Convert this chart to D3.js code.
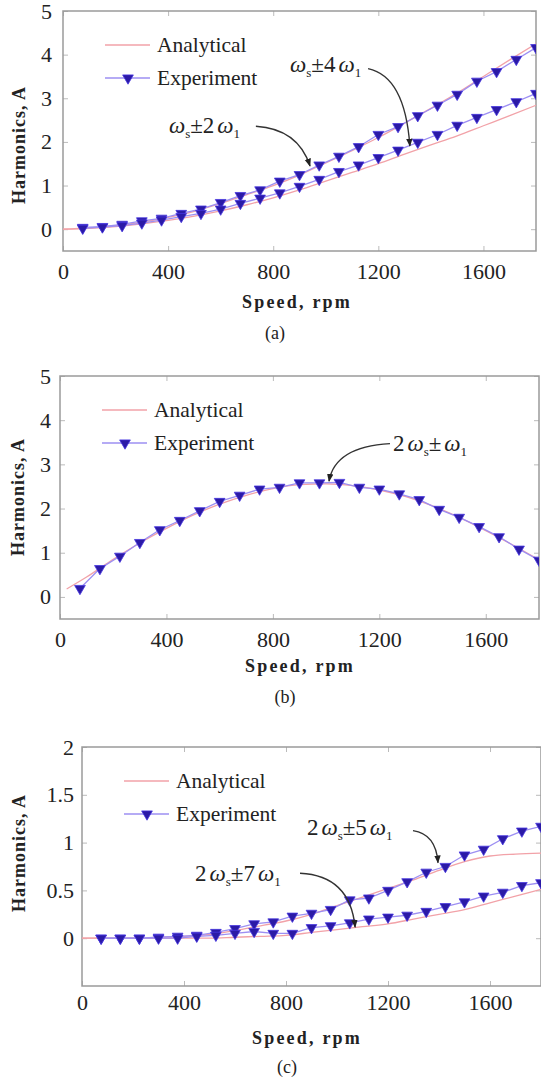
<!DOCTYPE html>
<html>
<head>
<meta charset="utf-8">
<script src="https://cdn.jsdelivr.net/npm/d3@7"></script>
<style>
  body { margin: 0; background: #fff; }
  svg { display: block; }
  svg text { font-family: "Liberation Serif", "DejaVu Serif", serif; }
</style>
</head>
<body>
<div id="chart"></div>
<script>
// speeds (rpm)
const expSpeed = [75, 150, 225, 300, 375, 450, 525, 600, 675, 750, 825, 900,
  975, 1050, 1125, 1200, 1275, 1350, 1425, 1500, 1575, 1650, 1725, 1800];
const anaSpeed = [0, 100, 200, 300, 400, 500, 600, 700, 800, 900, 1000,
  1100, 1200, 1300, 1400, 1500, 1600, 1700, 1800];
const anaSpeedB = [25, 100, 200, 300, 400, 500, 600, 700, 800, 900, 1000,
  1100, 1200, 1300, 1400, 1500, 1600, 1700, 1800];

// (a) ws±2w1 (upper) and ws±4w1 (lower)
const expAUpper = [0.04, 0.06, 0.11, 0.19, 0.25, 0.36, 0.46, 0.61, 0.77, 0.90, 1.10, 1.25,
  1.47, 1.67, 1.89, 2.17, 2.35, 2.60, 2.84, 3.09, 3.39, 3.61, 3.89, 4.16];
const expALower = [0.02, 0.05, 0.08, 0.14, 0.21, 0.29, 0.36, 0.46, 0.59, 0.71, 0.83, 0.98,
  1.14, 1.32, 1.47, 1.64, 1.81, 1.99, 2.17, 2.38, 2.56, 2.74, 2.92, 3.11];
const anaAUpper = [0, 0.03, 0.08, 0.16, 0.27, 0.41, 0.59, 0.79, 1.0, 1.24, 1.52,
  1.80, 2.10, 2.43, 2.77, 3.12, 3.50, 3.88, 4.25];
const anaALower = [0, 0.02, 0.06, 0.12, 0.20, 0.30, 0.42, 0.56, 0.72, 0.90, 1.10,
  1.30, 1.50, 1.72, 1.93, 2.14, 2.37, 2.60, 2.84];

// (b) 2ws±w1
const expB = [0.19, 0.64, 0.92, 1.23, 1.52, 1.73, 1.95, 2.16, 2.30, 2.44, 2.48, 2.58,
  2.58, 2.59, 2.48, 2.44, 2.33, 2.20, 1.98, 1.80, 1.59, 1.36, 1.08, 0.83];
const anaB = [0.18, 0.45, 0.85, 1.22, 1.55, 1.85, 2.10, 2.30, 2.45, 2.54, 2.56,
  2.52, 2.42, 2.27, 2.06, 1.80, 1.50, 1.18, 0.84];

// (c) 2ws±5w1 (upper) and 2ws±7w1 (lower)
const expCUpper = [0, 0, 0, 0.01, 0.02, 0.03, 0.06, 0.10, 0.15, 0.17, 0.23, 0.26,
  0.30, 0.40, 0.42, 0.50, 0.59, 0.69, 0.75, 0.87, 0.93, 1.04, 1.12, 1.17];
const expCLower = [0, 0, 0, 0, 0, 0.02, 0.03, 0.05, 0.07, 0.05, 0.05, 0.11,
  0.13, 0.16, 0.20, 0.22, 0.24, 0.28, 0.33, 0.38, 0.44, 0.48, 0.55, 0.58];
const anaCUpper = [0, 0, 0, 0.01, 0.02, 0.04, 0.08, 0.13, 0.18, 0.25, 0.34,
  0.43, 0.52, 0.61, 0.71, 0.80, 0.86, 0.88, 0.89];
const anaCLower = [0, 0, 0, 0, 0, 0, 0.01, 0.02, 0.03, 0.06, 0.09,
  0.12, 0.15, 0.20, 0.25, 0.30, 0.37, 0.44, 0.51];

const xTicks = [0, 400, 800, 1200, 1600];
const yTicksAB = [0, 1, 2, 3, 4, 5];
const yTicksC = [0, 0.5, 1, 1.5, 2];
const legendLabels = ["Analytical", "Experiment"];

const W = 541, H = 1088;
const FONT = "Liberation Serif";
const anaColor = "#f2a2a8";
const expColor = "#9d8ff2";
const markColor = "#2b1aa6";

const svg = d3.select("#chart").append("svg")
  .attr("width", W).attr("height", H);

svg.append("defs").append("marker")
  .attr("id", "arrow")
  .attr("viewBox", "0 -5 10 10")
  .attr("refX", 9).attr("refY", 0)
  .attr("markerUnits", "userSpaceOnUse")
  .attr("markerWidth", 8).attr("markerHeight", 8)
  .attr("orient", "auto")
  .append("path").attr("d", "M0,-4L10,0L0,4Z").attr("fill", "#222");

const panels = [
  {
    name: "a", left: 63, right: 536, top: 11, bottom: 251,
    yDomain: [-0.5, 5], yTicks: yTicksAB, xPad: 12, yPad: 11,
    xLabelY: 302, xLabelX: 297, yLabelX: 19, yLabelY: 145, capX: 275, capY: 333,
    ana: [{ s: anaSpeed, v: anaAUpper }, { s: anaSpeed, v: anaALower }],
    exp: [expAUpper, expALower],
    notes: [
      { pre: "", mid: "4", tx: 864, ty: 3.61,
        from: [1161, 3.68], ctrl: [1301, 3.50], to: [1320, 1.91] },
      { pre: "", mid: "2", tx: 403, ty: 2.20,
        from: [734, 2.36], ctrl: [894, 2.30], to: [940, 1.45] }
    ]
  },
  {
    name: "b", left: 60, right: 539, top: 376, bottom: 619,
    yDomain: [-0.5, 5], yTicks: yTicksAB, xPad: 12, yPad: 9,
    xLabelY: 666, xLabelX: 300, yLabelX: 18, yLabelY: 497, capX: 285, capY: 697,
    ana: [{ s: anaSpeedB, v: anaB }],
    exp: [expB],
    notes: [
      { pre: "2", mid: "", tx: 1251, ty: 3.31,
        from: [1240, 3.47], ctrl: [1033, 3.40], to: [1011, 2.62] }
    ]
  },
  {
    name: "c", left: 82, right: 541, top: 747, bottom: 986,
    yDomain: [-0.5, 2], yTicks: yTicksC, xPad: 8, yPad: 8,
    xLabelY: 1038, xLabelX: 307, yLabelX: 19, yLabelY: 853, capX: 287, capY: 1067,
    ana: [{ s: anaSpeed, v: anaCUpper }, { s: anaSpeed, v: anaCLower }],
    exp: [expCUpper, expCLower],
    notes: [
      { pre: "2", mid: "5", tx: 882, ty: 1.08,
        from: [1298, 1.125], ctrl: [1388, 1.09], to: [1396, 0.79] },
      { pre: "2", mid: "7", tx: 443, ty: 0.60,
        from: [855, 0.68], ctrl: [1051, 0.656], to: [1071, 0.115] }
    ]
  }
];

const tri = d3.symbol().type(d3.symbolTriangle).size(50);

function drawPanel(p) {
  const x = d3.scaleLinear().domain([0, 1800]).range([p.left, p.right]);
  const y = d3.scaleLinear().domain(p.yDomain).range([p.bottom, p.top]);
  const g = svg.append("g").attr("class", "panel-" + p.name);

  g.append("clipPath").attr("id", "clip-" + p.name)
    .append("rect")
    .attr("x", p.left).attr("y", p.top)
    .attr("width", p.right - p.left).attr("height", p.bottom - p.top);

  // ticks (inside, all four sides)
  const tickStyle = (a) => {
    a.attr("font-family", FONT);
    a.select(".domain").remove();
    a.selectAll(".tick line").attr("stroke", "#bbb");
    a.selectAll("text").attr("font-size", 22).attr("fill", "#222");
  };
  g.append("g").attr("transform", `translate(0,${p.bottom})`)
    .call(d3.axisBottom(x).tickValues(xTicks).tickSize(-5).tickPadding(p.xPad).tickFormat(d3.format("d")))
    .call(tickStyle);
  g.append("g").attr("transform", `translate(0,${p.top})`)
    .call(d3.axisTop(x).tickValues(xTicks).tickSize(-5).tickFormat(""))
    .call(tickStyle);
  g.append("g").attr("transform", `translate(${p.left},0)`)
    .call(d3.axisLeft(y).tickValues(p.yTicks).tickSize(-5).tickPadding(p.yPad).tickFormat(d3.format("")))
    .call(tickStyle);
  g.append("g").attr("transform", `translate(${p.right},0)`)
    .call(d3.axisRight(y).tickValues(p.yTicks).tickSize(-5).tickFormat(""))
    .call(tickStyle);

  g.append("rect")
    .attr("x", p.left).attr("y", p.top)
    .attr("width", p.right - p.left).attr("height", p.bottom - p.top)
    .attr("fill", "none").attr("stroke", "#9a9a9a").attr("stroke-width", 1.5);

  const plot = g.append("g").attr("clip-path", `url(#clip-${p.name})`);

  const anaLine = d3.line().curve(d3.curveMonotoneX)
    .x((d) => x(d[0])).y((d) => y(d[1]));
  p.ana.forEach((a) => {
    plot.append("path")
      .datum(a.s.map((s, i) => [s, a.v[i]]))
      .attr("d", anaLine)
      .attr("fill", "none").attr("stroke", anaColor).attr("stroke-width", 1.3);
  });

  const expLine = d3.line().x((d) => x(d[0])).y((d) => y(d[1]));
  p.exp.forEach((vals) => {
    const pts = expSpeed.map((s, i) => [s, vals[i]]);
    plot.append("path").datum(pts).attr("d", expLine)
      .attr("fill", "none").attr("stroke", expColor).attr("stroke-width", 1.3);
    plot.append("g").selectAll("path").data(pts).join("path")
      .attr("d", tri)
      .attr("transform", (d) => `translate(${x(d[0])},${y(d[1])}) rotate(180)`)
      .attr("fill", markColor).attr("stroke", "#4636e0").attr("stroke-width", 0.8);
  });

  // legend
  const lg = g.append("g").attr("transform", `translate(${p.left + 42},${p.top})`);
  lg.append("line").attr("x1", 0).attr("x2", 45).attr("y1", 34).attr("y2", 34)
    .attr("stroke", anaColor).attr("stroke-width", 1.3);
  lg.append("line").attr("x1", 0).attr("x2", 45).attr("y1", 67).attr("y2", 67)
    .attr("stroke", expColor).attr("stroke-width", 1.3);
  lg.append("path").attr("d", tri)
    .attr("transform", "translate(23,67) rotate(180)")
    .attr("fill", markColor).attr("stroke", "#4636e0").attr("stroke-width", 0.8);
  lg.selectAll("text.leg").data(legendLabels).join("text")
    .attr("class", "leg")
    .attr("x", 52).attr("y", (d, i) => (i === 0 ? 34 : 67) + 7)
    .attr("font-size", 21.5).attr("fill", "#222")
    .text((d) => d);

  // annotations
  p.notes.forEach((n) => {
    const path = d3.path();
    path.moveTo(x(n.from[0]), y(n.from[1]));
    path.quadraticCurveTo(x(n.ctrl[0]), y(n.ctrl[1]), x(n.to[0]), y(n.to[1]));
    g.append("path").attr("d", path.toString())
      .attr("fill", "none").attr("stroke", "#333").attr("stroke-width", 1.4)
      .attr("marker-end", "url(#arrow)");

    const t = g.append("text").attr("x", x(n.tx)).attr("y", y(n.ty))
      .attr("font-size", 23).attr("fill", "#222");
    if (n.pre) t.append("tspan").text(n.pre);
    t.append("tspan").text("ω").attr("font-style", "italic").attr("dx", n.pre ? 3 : 0);
    t.append("tspan").text("s").attr("font-size", 13).attr("dy", 5);
    t.append("tspan").text("±").attr("dy", -5);
    if (n.mid) t.append("tspan").text(n.mid);
    t.append("tspan").text("ω").attr("font-style", "italic").attr("dx", 3);
    t.append("tspan").text("1").attr("font-size", 13).attr("dy", 5);
  });

  // axis titles and caption
  g.append("text").attr("x", p.xLabelX).attr("y", p.xLabelY + 6)
    .attr("text-anchor", "middle").attr("font-weight", "bold")
    .attr("font-size", 18).attr("letter-spacing", 2.2).attr("fill", "#222")
    .text("Speed, rpm");
  g.append("text")
    .attr("transform", `translate(${p.yLabelX + 6},${p.yLabelY}) rotate(-90)`)
    .attr("text-anchor", "middle").attr("font-weight", "bold")
    .attr("font-size", 18).attr("letter-spacing", 1).attr("fill", "#222")
    .text("Harmonics, A");
  g.append("text").attr("x", p.capX).attr("y", p.capY + 6)
    .attr("text-anchor", "middle").attr("font-size", 18).attr("fill", "#222")
    .text(`(${p.name})`);
}

panels.forEach(drawPanel);
</script>
</body>
</html>
